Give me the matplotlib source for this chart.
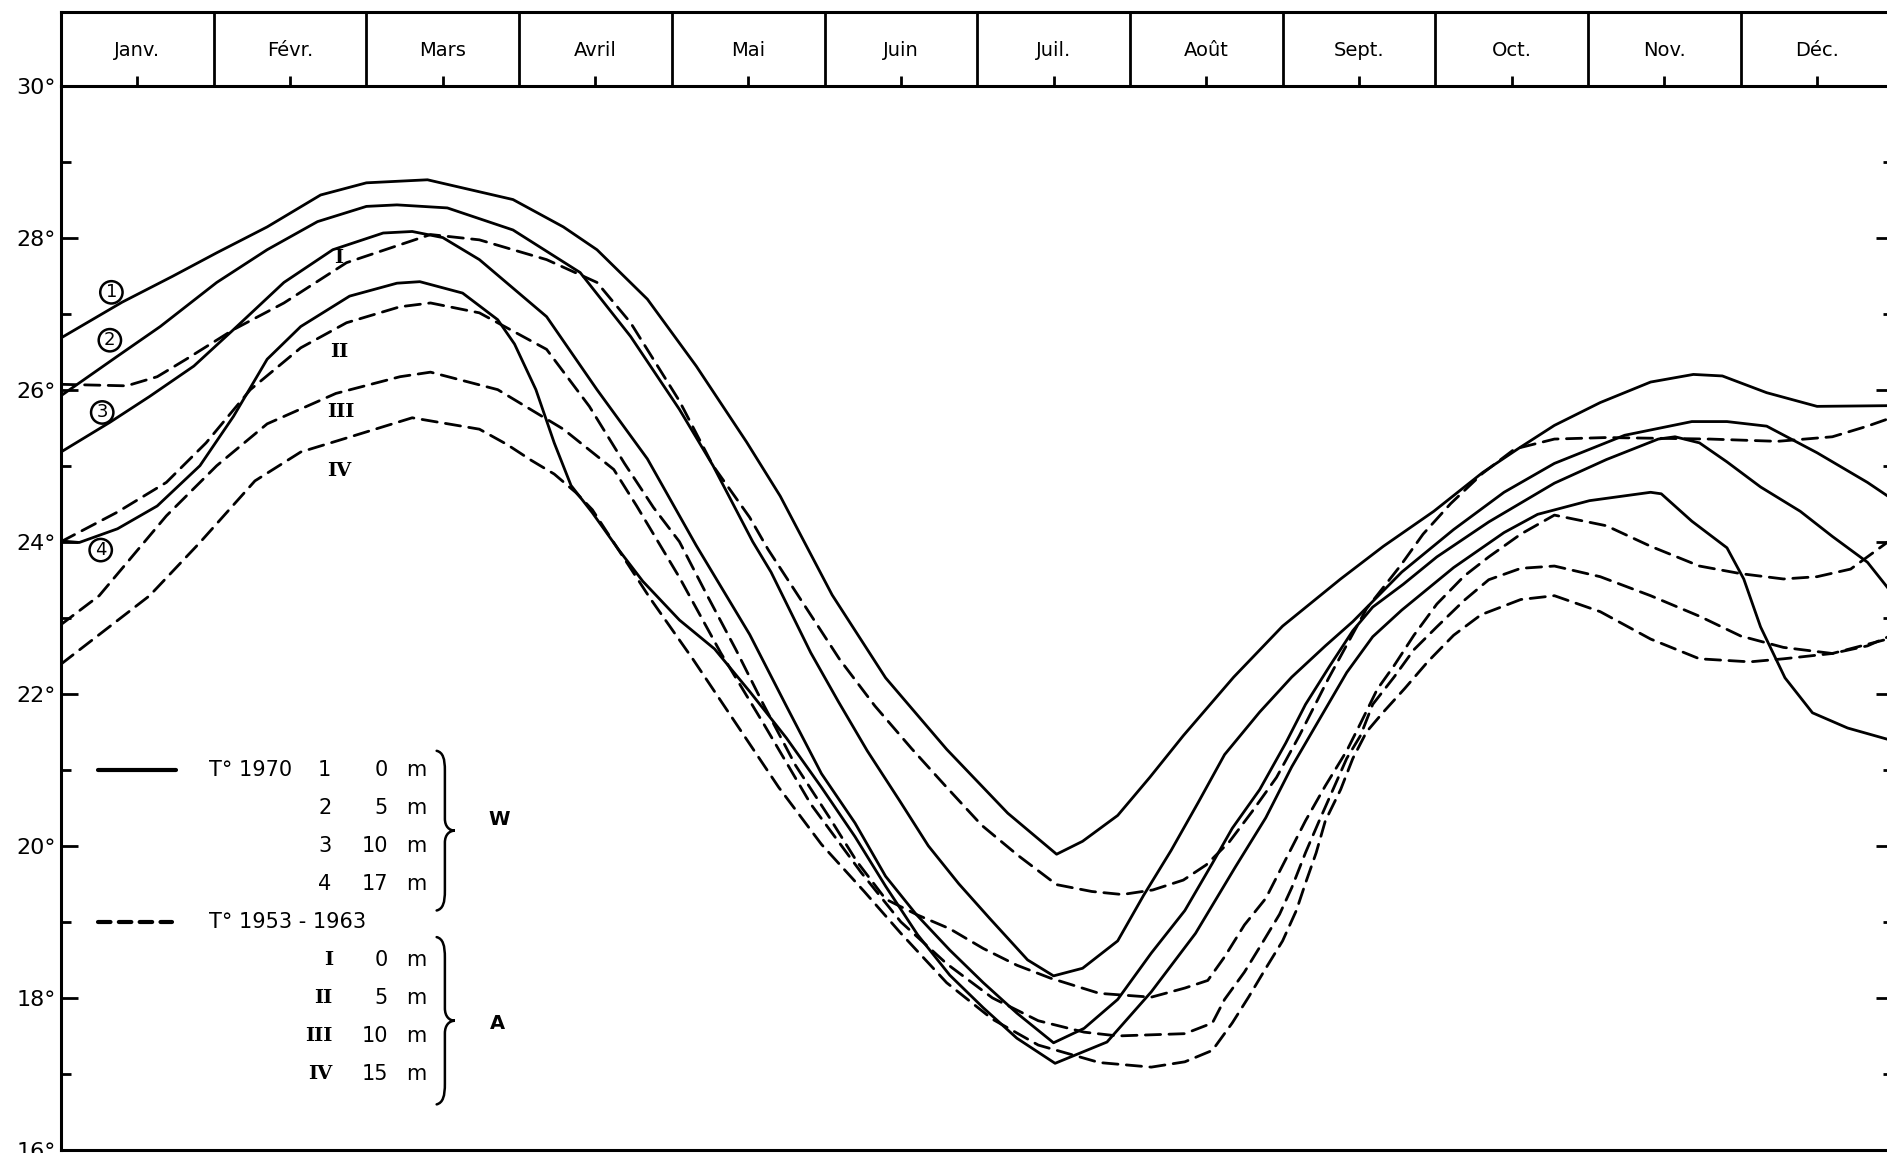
import numpy as np
import matplotlib.pyplot as plt
from matplotlib.path import Path
from matplotlib.patches import PathPatch

plt.rcParams['font.family'] = ['DejaVu Sans']

# mois (axe x en mois écoulés depuis le 1er janvier) ----------------------

mois = ["Janv.", "Févr.", "Mars", "Avril", "Mai", "Juin",
        "Juil.", "Août", "Sept.", "Oct.", "Nov.", "Déc."]

# T° 1970 (station W), colonnes : mois, température ----------------------

t1970_0m = np.array([
    [0.00, 26.68], [0.40, 27.15], [0.73, 27.49], [1.02, 27.80], [1.35, 28.14],
    [1.70, 28.56], [2.00, 28.72], [2.40, 28.76], [2.96, 28.50], [3.29, 28.14],
    [3.51, 27.84], [3.84, 27.19], [4.16, 26.31], [4.49, 25.31], [4.71, 24.60],
    [5.05, 23.30], [5.40, 22.21], [5.80, 21.27], [6.20, 20.43], [6.52, 19.89],
    [6.69, 20.06], [6.92, 20.40], [7.13, 20.90], [7.35, 21.45], [7.68, 22.22],
    [8.00, 22.89], [8.38, 23.51], [8.66, 23.94], [8.99, 24.40], [9.31, 24.91],
    [9.54, 25.22], [9.78, 25.53], [10.08, 25.83], [10.41, 26.10], [10.69, 26.20],
    [10.88, 26.18], [11.17, 25.96], [11.50, 25.78], [12.00, 25.79],
])

t1970_5m = np.array([
    [0.00, 25.92], [0.37, 26.44], [0.65, 26.83], [1.02, 27.41], [1.35, 27.84],
    [1.68, 28.21], [2.00, 28.41], [2.20, 28.43], [2.53, 28.39], [2.96, 28.10],
    [3.40, 27.54], [3.73, 26.70], [4.05, 25.74], [4.27, 25.00], [4.53, 24.00],
    [4.65, 23.60], [4.91, 22.54], [5.09, 21.90], [5.28, 21.25], [5.49, 20.60],
    [5.68, 20.00], [5.88, 19.50], [6.08, 19.05], [6.33, 18.50], [6.50, 18.29],
    [6.69, 18.39], [6.92, 18.75], [7.09, 19.35], [7.27, 19.94], [7.45, 20.58],
    [7.62, 21.20], [7.85, 21.76], [8.06, 22.22], [8.28, 22.63], [8.46, 22.95],
    [8.78, 23.60], [9.12, 24.16], [9.45, 24.65], [9.78, 25.03], [10.24, 25.40],
    [10.68, 25.58], [10.91, 25.58], [11.17, 25.52], [11.50, 25.17], [11.83, 24.78],
    [12.00, 24.55],
])

t1970_10m = np.array([
    [0.00, 25.18], [0.32, 25.57], [0.58, 25.91], [0.87, 26.31], [1.13, 26.79],
    [1.46, 27.41], [1.78, 27.84], [2.11, 28.06], [2.30, 28.08], [2.50, 28.00],
    [2.74, 27.71], [3.18, 26.96], [3.51, 26.00], [3.84, 25.09], [4.16, 23.95],
    [4.51, 22.78], [4.75, 21.84], [4.98, 20.95], [5.20, 20.30], [5.40, 19.60],
    [5.60, 19.10], [5.82, 18.63], [6.04, 18.20], [6.26, 17.80], [6.50, 17.41],
    [6.70, 17.60], [6.92, 17.98], [7.14, 18.59], [7.36, 19.15], [7.54, 19.77],
    [7.67, 20.23], [7.85, 20.74], [8.02, 21.35], [8.15, 21.86], [8.31, 22.37],
    [8.46, 22.83], [8.59, 23.14], [8.79, 23.44], [9.01, 23.80], [9.35, 24.26],
    [9.78, 24.77], [10.12, 25.08], [10.46, 25.35], [10.57, 25.38], [10.73, 25.30],
    [10.91, 25.05], [11.13, 24.72], [11.39, 24.40], [11.60, 24.07], [11.83, 23.73],
    [12.00, 23.30],
])

t1970_17m = np.array([
    [0.00, 24.01], [0.12, 23.99], [0.37, 24.17], [0.63, 24.47], [0.91, 25.00],
    [1.13, 25.65], [1.35, 26.40], [1.57, 26.83], [1.89, 27.23], [2.20, 27.40],
    [2.35, 27.42], [2.63, 27.27], [2.86, 26.92], [2.97, 26.60], [3.11, 26.00],
    [3.23, 25.30], [3.34, 24.74], [3.48, 24.38], [3.65, 23.90], [3.81, 23.48],
    [4.05, 22.97], [4.28, 22.59], [4.51, 22.03], [4.75, 21.42], [4.98, 20.77],
    [5.20, 20.12], [5.40, 19.47], [5.61, 18.83], [5.82, 18.30], [6.04, 17.87],
    [6.26, 17.47], [6.51, 17.14], [6.85, 17.42], [7.14, 18.08], [7.43, 18.85],
    [7.69, 19.72], [7.89, 20.37], [8.06, 21.04], [8.24, 21.66], [8.42, 22.28],
    [8.59, 22.75], [8.78, 23.10], [9.12, 23.66], [9.45, 24.12], [9.67, 24.36],
    [10.01, 24.54], [10.41, 24.65], [10.48, 24.63], [10.68, 24.27], [10.91, 23.92],
    [11.02, 23.51], [11.13, 22.88], [11.29, 22.21], [11.47, 21.75], [11.70, 21.55],
    [12.00, 21.38],
])

# T° 1953 - 1963 (station A) -----------------------------------------------

tmoy_0m = np.array([
    [0.00, 26.07], [0.43, 26.05], [0.63, 26.17], [0.82, 26.40], [1.13, 26.79],
    [1.46, 27.14], [1.87, 27.67], [2.42, 28.04], [2.74, 27.97], [3.18, 27.71],
    [3.51, 27.41], [3.73, 26.88], [4.05, 25.85], [4.27, 25.00], [4.51, 24.32],
    [4.63, 23.90], [4.87, 23.16], [5.10, 22.45], [5.33, 21.84], [5.57, 21.28],
    [5.80, 20.77], [6.03, 20.27], [6.27, 19.87], [6.52, 19.49], [6.75, 19.40],
    [6.95, 19.36], [7.15, 19.42], [7.35, 19.55], [7.50, 19.75], [7.65, 20.05],
    [7.80, 20.45], [7.96, 20.90], [8.11, 21.45], [8.30, 22.20], [8.55, 23.12],
    [8.77, 23.68], [8.92, 24.10], [9.10, 24.50], [9.31, 24.90], [9.52, 25.22],
    [9.78, 25.35], [10.12, 25.37], [10.46, 25.36], [10.80, 25.35], [11.24, 25.32],
    [11.60, 25.38], [11.83, 25.52], [12.00, 25.64],
])

tmoy_5m = np.array([
    [0.00, 24.00], [0.37, 24.39], [0.69, 24.78], [0.95, 25.30], [1.24, 26.00],
    [1.57, 26.55], [1.87, 26.88], [2.22, 27.09], [2.42, 27.14], [2.74, 27.01],
    [3.18, 26.53], [3.46, 25.78], [3.69, 25.03], [3.88, 24.45], [4.05, 24.00],
    [4.23, 23.30], [4.42, 22.58], [4.60, 21.86], [4.81, 21.06], [5.03, 20.38],
    [5.21, 19.80], [5.40, 19.30], [5.61, 19.09], [5.82, 18.91], [6.04, 18.65],
    [6.26, 18.43], [6.48, 18.26], [6.80, 18.06], [7.14, 18.01], [7.36, 18.13],
    [7.51, 18.23], [7.62, 18.54], [7.75, 18.96], [7.89, 19.31], [8.02, 19.82],
    [8.15, 20.33], [8.28, 20.79], [8.42, 21.25], [8.51, 21.61], [8.62, 22.06],
    [8.73, 22.37], [8.86, 22.77], [9.01, 23.18], [9.19, 23.55], [9.35, 23.80],
    [9.56, 24.10], [9.78, 24.35], [10.12, 24.21], [10.41, 23.94], [10.73, 23.68],
    [11.00, 23.58], [11.28, 23.51], [11.50, 23.54], [11.72, 23.64], [12.00, 24.05],
])

tmoy_10m = np.array([
    [0.00, 22.91], [0.25, 23.29], [0.69, 24.34], [1.02, 25.00], [1.35, 25.55],
    [1.80, 25.95], [2.22, 26.17], [2.42, 26.23], [2.86, 26.00], [3.29, 25.48],
    [3.62, 24.95], [3.77, 24.47], [4.05, 23.53], [4.32, 22.54], [4.60, 21.61],
    [4.91, 20.55], [5.24, 19.65], [5.50, 19.00], [5.80, 18.45], [6.10, 18.00],
    [6.40, 17.70], [6.70, 17.55], [6.92, 17.50], [7.36, 17.53], [7.54, 17.67],
    [7.62, 17.98], [7.75, 18.34], [7.86, 18.70], [7.98, 19.10], [8.06, 19.45],
    [8.15, 19.91], [8.24, 20.33], [8.33, 20.74], [8.42, 21.15], [8.51, 21.45],
    [8.59, 21.86], [8.73, 22.22], [8.86, 22.58], [9.01, 22.88], [9.19, 23.23],
    [9.35, 23.50], [9.56, 23.65], [9.78, 23.68], [10.08, 23.54], [10.41, 23.29],
    [10.73, 23.02], [11.00, 22.76], [11.28, 22.61], [11.60, 22.53], [11.83, 22.63],
    [12.00, 22.78],
])

tmoy_15m = np.array([
    [0.00, 22.39], [0.58, 23.29], [0.91, 23.99], [1.27, 24.80], [1.57, 25.18],
    [1.88, 25.37], [2.30, 25.63], [2.74, 25.48], [2.92, 25.28], [3.08, 25.07],
    [3.23, 24.89], [3.37, 24.65], [3.48, 24.42], [3.86, 23.25], [4.14, 22.45],
    [4.42, 21.61], [4.70, 20.77], [4.98, 20.02], [5.26, 19.40], [5.50, 18.85],
    [5.80, 18.20], [6.10, 17.72], [6.40, 17.38], [6.80, 17.15], [7.14, 17.09],
    [7.36, 17.16], [7.54, 17.31], [7.67, 17.67], [7.78, 18.02], [7.89, 18.39],
    [8.00, 18.75], [8.09, 19.15], [8.15, 19.51], [8.22, 19.91], [8.28, 20.33],
    [8.38, 20.74], [8.46, 21.15], [8.55, 21.50], [8.66, 21.76], [8.80, 22.07],
    [8.95, 22.42], [9.12, 22.77], [9.30, 23.04], [9.56, 23.24], [9.78, 23.29],
    [10.08, 23.08], [10.41, 22.72], [10.73, 22.46], [11.06, 22.42], [11.28, 22.46],
    [11.60, 22.53], [12.00, 22.74],
])

# étiquettes des courbes ---------------------------------------------------

cercles = ["1", "2", "3", "4"]
cercles_pos = [(0.33, 27.28), (0.32, 26.65), (0.27, 25.70), (0.26, 23.89)]
romains = ["I", "II", "III", "IV"]
romains_pos = [(1.82, 27.73), (1.82, 26.49), (1.83, 25.70), (1.82, 24.93)]

# légende
leg_1970 = [("1", "0"), ("2", "5"), ("3", "10"), ("4", "17")]
leg_moy = [("I", "0"), ("II", "5"), ("III", "10"), ("IV", "15")]

DASH = (0, (5.5, 3))
LW = 2.0
FS = 15


def accolade(ax, x, y_haut, y_bas, larg, lw=1.8):
    # accolade fermante "}" en coordonnées de données
    ym = (y_haut + y_bas) / 2.0
    h = (y_haut - y_bas) / 2.0
    pts = [
        (0.0, 1.0), (0.35, 0.98), (0.45, 0.90), (0.45, 0.75),
        (0.45, 0.15),
        (0.45, 0.05), (0.70, 0.0), (1.0, 0.0),
        (0.70, 0.0), (0.45, -0.05), (0.45, -0.15),
        (0.45, -0.75),
        (0.45, -0.90), (0.35, -0.98), (0.0, -1.0),
    ]
    codes = [Path.MOVETO, Path.CURVE4, Path.CURVE4, Path.CURVE4,
             Path.LINETO,
             Path.CURVE4, Path.CURVE4, Path.CURVE4,
             Path.CURVE4, Path.CURVE4, Path.CURVE4,
             Path.LINETO,
             Path.CURVE4, Path.CURVE4, Path.CURVE4]
    verts = [(x + px * larg, ym + py * h) for px, py in pts]
    ax.add_patch(PathPatch(Path(verts, codes), fill=False, lw=lw, color="k",
                           capstyle="round"))


# figure ---------------------------------------------------------------

W, H = 1887, 1153
x0, x1 = 61, 1893.4
y_top, y_bot = 85.5, 1150.0

fig = plt.figure(figsize=(W / 100, H / 100), dpi=100)
ax = fig.add_axes([x0 / W, 1 - y_bot / H, (x1 - x0) / W, (y_bot - y_top) / H])
ax_h = fig.add_axes([x0 / W, 1 - y_top / H, (x1 - x0) / W, (y_top - 12) / H])

for data in (t1970_0m, t1970_5m, t1970_10m, t1970_17m):
    ax.plot(data[:, 0], data[:, 1], color="k", lw=LW, solid_capstyle="round",
            solid_joinstyle="round")
for data in (tmoy_0m, tmoy_5m, tmoy_10m, tmoy_15m):
    ax.plot(data[:, 0], data[:, 1], color="k", lw=LW, ls=DASH,
            dash_capstyle="round")

ax.set_xlim(0, 12)
ax.set_ylim(16, 30)

# axes et graduations
for s in ax.spines.values():
    s.set_linewidth(2.2)
ax.set_xticks(np.arange(12) + 0.5)
ax.tick_params(axis="x", which="both", bottom=False, top=True, labelbottom=False,
               labeltop=False, direction="out", length=7, width=2)
ax.set_yticks(np.arange(16, 31, 2))
ax.set_yticks(np.arange(17, 30, 2), minor=True)
ax.set_yticklabels([f"{v}°" for v in range(16, 31, 2)], fontsize=16)
ax.tick_params(axis="y", which="major", left=True, right=True, direction="in",
               length=12, width=2, pad=4)
ax.tick_params(axis="y", which="minor", left=True, right=True, direction="in",
               length=7, width=2)

# bandeau des mois
ax_h.set_xlim(0, 12)
ax_h.set_ylim(0, 1)
ax_h.patch.set_alpha(0)
ax_h.set_xticks([])
ax_h.set_yticks([])
for k, s in ax_h.spines.items():
    s.set_linewidth(2.2)
    s.set_visible(k in ("top", "left"))
for k in range(1, 12):
    ax_h.axvline(k, color="k", lw=2)
for i, m in enumerate(mois):
    ax_h.text(i + 0.5, 0.48, m, ha="center", va="center", fontsize=14)

# étiquettes des courbes
for t, (x, y) in zip(cercles, cercles_pos):
    ax.text(x, y, t, ha="center", va="center", fontsize=13,
            bbox=dict(boxstyle="circle,pad=0.12", fc="none", ec="k", lw=1.8))
for t, (x, y) in zip(romains, romains_pos):
    ax.text(x, y, t, ha="center", va="center", fontsize=14,
            family="DejaVu Serif", fontweight="bold")

# légende
ax.plot([0.24, 0.75], [21, 21], color="k", lw=3, solid_capstyle="round")
ax.plot([0.24, 0.73], [19, 19], color="k", lw=3, ls=(0, (3, 2)),
        dash_capstyle="round")
ax.text(0.97, 21.0, "T° 1970", ha="left", va="center", fontsize=FS)
ax.text(0.97, 19.0, "T° 1953 - 1963", ha="left", va="center", fontsize=FS)
for i, (n, p) in enumerate(leg_1970):
    y = 21.0 - 0.5 * i
    ax.text(1.77, y, n, ha="right", va="center", fontsize=FS)
    ax.text(2.14, y, p, ha="right", va="center", fontsize=FS)
    ax.text(2.26, y, "m", ha="left", va="center", fontsize=FS)
for i, (n, p) in enumerate(leg_moy):
    y = 18.5 - 0.5 * i
    ax.text(1.78, y, n, ha="right", va="center", fontsize=14,
            family="DejaVu Serif", fontweight="bold")
    ax.text(2.14, y, p, ha="right", va="center", fontsize=FS)
    ax.text(2.26, y, "m", ha="left", va="center", fontsize=FS)

accolade(ax, 2.46, 21.25, 19.15, 0.12)
accolade(ax, 2.46, 18.80, 16.60, 0.12)
ax.text(2.87, 20.35, "W", ha="center", va="center", fontsize=14, fontweight="bold")
ax.text(2.86, 17.66, "A", ha="center", va="center", fontsize=14, fontweight="bold")

fig.savefig("out.png", dpi=100)
